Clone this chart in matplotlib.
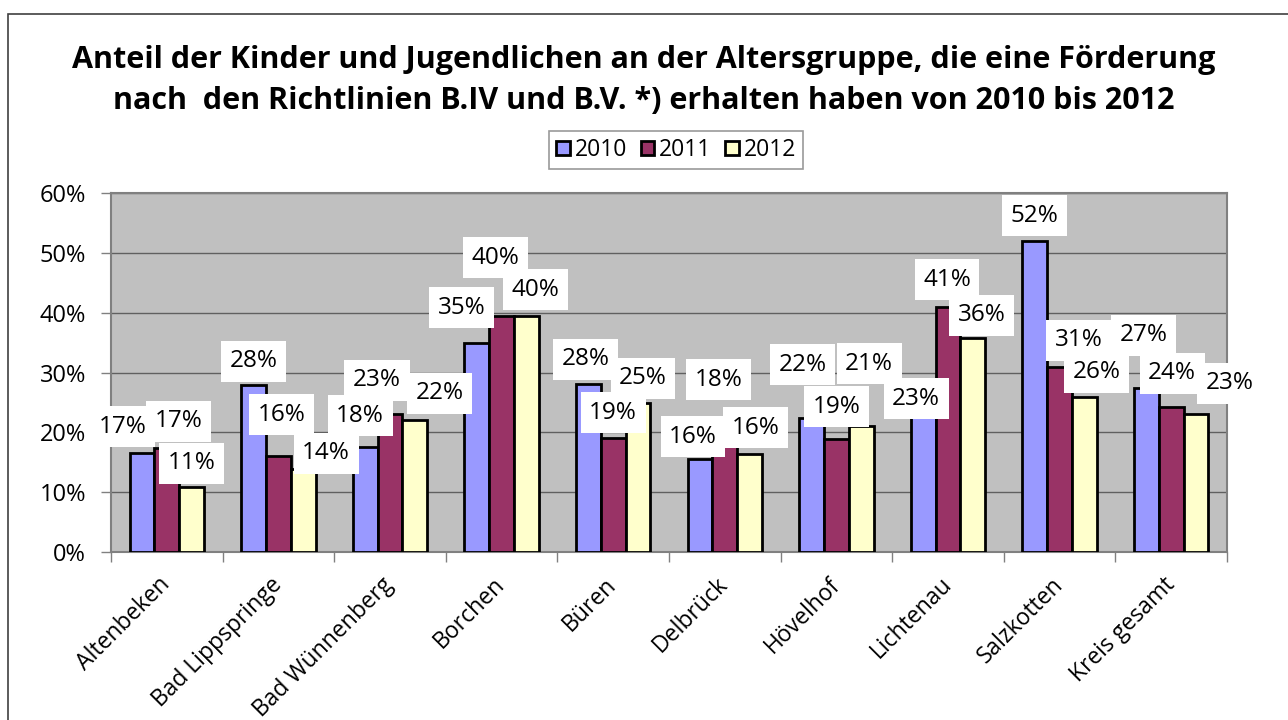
import numpy as np
import matplotlib.pyplot as plt
from matplotlib.patches import Patch, Rectangle

plt.rcParams["font.family"] = ["Open Sans", "DejaVu Sans"]

categories = ["Altenbeken", "Bad Lippspringe", "Bad Wünnenberg", "Borchen", "Büren",
              "Delbrück", "Hövelhof", "Lichtenau", "Salzkotten", "Kreis gesamt"]
years = ["2010", "2011", "2012"]
v2010 = [16.6, 27.9, 17.6, 35.0, 28.0, 15.6, 22.4, 22.6, 52.0, 27.4]
v2011 = [17.3, 16.1, 23.0, 39.5, 19.1, 17.9, 18.9, 41.0, 30.9, 24.2]
v2012 = [10.8, 13.8, 22.0, 39.5, 24.9, 16.4, 21.1, 35.7, 25.9, 23.0]
labels2010 = ["17%", "28%", "18%", "35%", "28%", "16%", "22%", "23%", "52%", "27%"]
labels2011 = ["17%", "16%", "23%", "40%", "19%", "18%", "19%", "41%", "31%", "24%"]
labels2012 = ["11%", "14%", "22%", "40%", "25%", "16%", "21%", "36%", "26%", "23%"]

# where the data labels sit relative to the top of their bar (pixels, dx / dy up)
label_shift = [
    [(-19, 26), (0, 24), (-5, 31), (-15, 35), (-3, 25), (-7, 22), (-9, 53), (-7, 18), (0, 25), (-3, 53)],
    [(12, 27), (3, 41), (-13, 34), (-6, 58), (0, 25), (-6, 65), (0, 32), (-1, 27), (19, 27), (1, 34)],
    [(0, 24), (23, 16), (25, 27), (9, 26), (5, 25), (6, 26), (8, 62), (9, 23), (12, 25), (34, 31)],
]

colors = ["#9999FF", "#993366", "#FFFFCC"]
series = [v2010, v2011, v2012]
series_labels = [labels2010, labels2011, labels2012]

fig = plt.figure(figsize=(12.88, 7.2), dpi=100)
fig.patches.append(Rectangle((8 / 1288, -0.1), 1.2, 1.1 - 14 / 720,
                             transform=fig.transFigure, fill=False,
                             edgecolor="#404040", linewidth=1.2))
ax = fig.add_axes([111 / 1288, 1 - 552 / 720, 1116 / 1288, 359 / 720])
ax.set_facecolor("#C0C0C0")

x = np.arange(len(categories))
w = 1 / 4.5
for i, vals in enumerate(series):
    pos = x + (i - 1) * w
    ax.bar(pos, vals, w, color=colors[i], edgecolor="black", linewidth=2, zorder=3)
    for px, v, lab, sh in zip(pos, vals, series_labels[i], label_shift[i]):
        ax.annotate(lab, (px, v), xytext=sh, textcoords="offset pixels",
                    ha="center", va="center", fontsize=17.5, zorder=5 + i,
                    annotation_clip=False,
                    bbox=dict(boxstyle="square,pad=0.35", fc="white", ec="none"))

ax.set_xlim(-0.5, len(categories) - 0.5)
ax.set_ylim(0, 60)
ax.set_yticks(np.arange(0, 61, 10))
ax.set_yticklabels([f"{t}%" for t in range(0, 61, 10)], fontsize=17)
ax.yaxis.grid(True, color="#606060", linewidth=1, zorder=0)
ax.set_axisbelow(True)

ax.set_xticks(x)
ax.set_xticklabels(categories, rotation=45, ha="right", va="center",
                   rotation_mode="anchor", fontsize=16.5)
ax.tick_params(axis="x", length=0, pad=21)
ax.set_xticks(np.arange(-0.5, len(categories), 1), minor=True)
ax.tick_params(axis="x", which="minor", length=7, color="#808080", width=1)
ax.tick_params(axis="y", length=7, color="#808080", width=1, pad=11)
for s in ax.spines.values():
    s.set_color("#808080")
    s.set_linewidth(1.5)

fig.text(0.5, 1 - 60 / 720,
         "Anteil der Kinder und Jugendlichen an der Altersgruppe, die eine Förderung",
         ha="center", va="center", fontsize=22, fontweight="bold")
fig.text(0.5, 1 - 101 / 720,
         "nach  den Richtlinien B.IV und B.V. *) erhalten haben von 2010 bis 2012",
         ha="center", va="center", fontsize=22, fontweight="bold")

handles = [Patch(facecolor=c, edgecolor="black", linewidth=2) for c in colors]
leg = fig.legend(handles, years, loc="center", bbox_to_anchor=(676 / 1288, 1 - 150 / 720),
                 ncol=3, fontsize=16.5, frameon=True, fancybox=False,
                 handlelength=0.6, handleheight=0.6, handletextpad=0.2,
                 columnspacing=0.6, borderpad=0.3)
leg.get_frame().set_edgecolor("#808080")
leg.get_frame().set_linewidth(1.2)

fig.savefig("out.png", dpi=100)
